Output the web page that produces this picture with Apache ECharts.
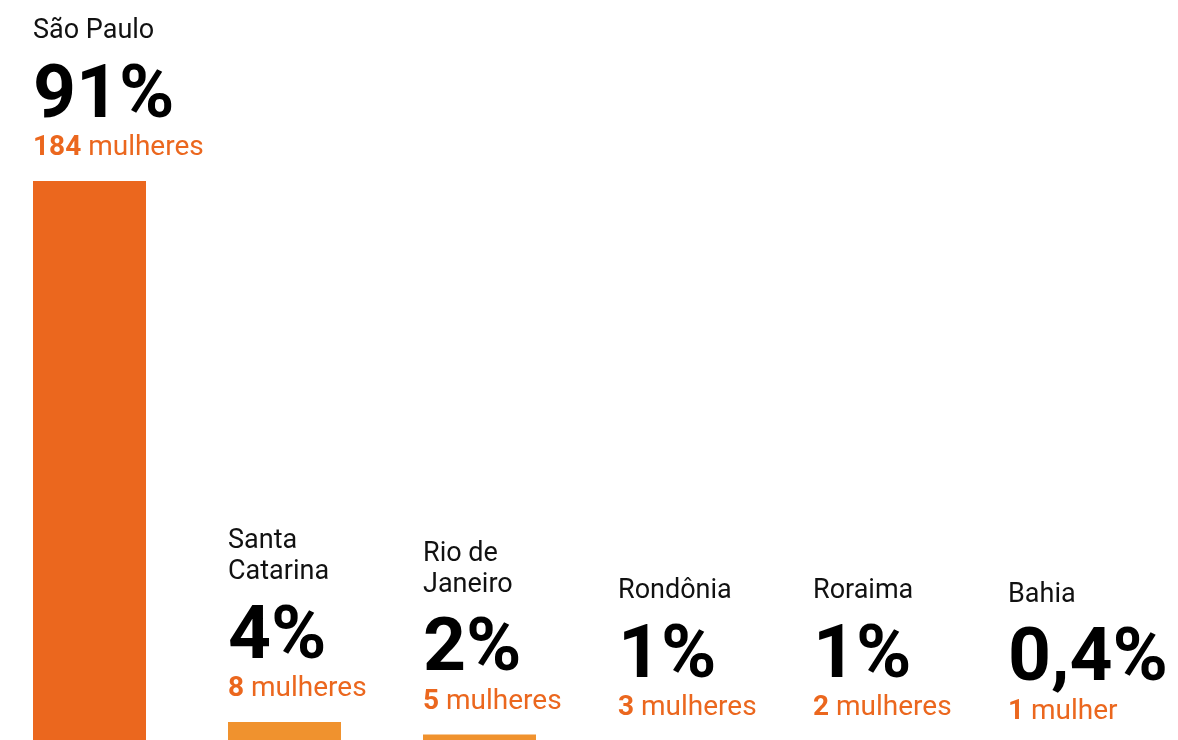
<!DOCTYPE html>
<html>
<head>
<meta charset="utf-8">
<script src="https://cdn.jsdelivr.net/npm/echarts@6/dist/echarts.min.js"></script>
<style>
  html, body { margin: 0; padding: 0; background: #ffffff; }
  #chart { width: 1178px; height: 740px; }
</style>
</head>
<body>
<div id="chart"></div>
<script>
// States and share of women
const states = ['São Paulo', 'Santa\nCatarina', 'Rio de\nJaneiro', 'Rondônia', 'Roraima', 'Bahia'];
const percents = [91, 4, 2, 1, 1, 0.4];
const counts = [184, 8, 5, 3, 2, 1];

const FONT = 'Roboto';
const barColors = ['#EB671E', '#F0922E', '#F0922E', '#F0922E', '#F0922E', '#F0922E'];

const chart = echarts.init(document.getElementById('chart'), null, { renderer: 'canvas' });

chart.setOption({
  animation: false,
  backgroundColor: '#ffffff',
  grid: { left: -8, right: 16, top: 125, bottom: -7, containLabel: false, outerBoundsMode: 'none' },
  xAxis: {
    type: 'category',
    data: states,
    show: false
  },
  yAxis: {
    type: 'value',
    min: 0,
    max: 100,
    show: false
  },
  series: [{
    type: 'bar',
    barWidth: 113,
    clip: false,
    data: percents.map((v, i) => ({ value: v, itemStyle: { color: barColors[i] } })),
    label: {
      show: true,
      position: 'top',
      distance: 0,
      align: 'left',
      verticalAlign: 'bottom',
      offset: [-56.5, -19],
      formatter: (p) => {
        const i = p.dataIndex;
        const pct = String(p.value).replace('.', ',') + '%';
        const unit = counts[i] === 1 ? 'mulher' : 'mulheres';
        return '{name|' + states[i] + '}\n{gap| }\n{pct|' + pct + '}\n{num|' + counts[i] + '}{unit| ' + unit + '}';
      },
      rich: {
        name: { fontFamily: FONT, fontSize: 27, lineHeight: 31, color: '#111111' },
        gap: { fontSize: 10, lineHeight: 15 },
        pct: { fontFamily: FONT, fontSize: 75, fontWeight: 'bold', lineHeight: 72, color: '#000000' },
        num: { fontFamily: FONT, fontSize: 28, fontWeight: 'bold', lineHeight: 28, color: '#EB671E' },
        unit: { fontFamily: FONT, fontSize: 28, lineHeight: 28, color: '#EB671E' }
      }
    }
  }]
});
</script>
</body>
</html>
